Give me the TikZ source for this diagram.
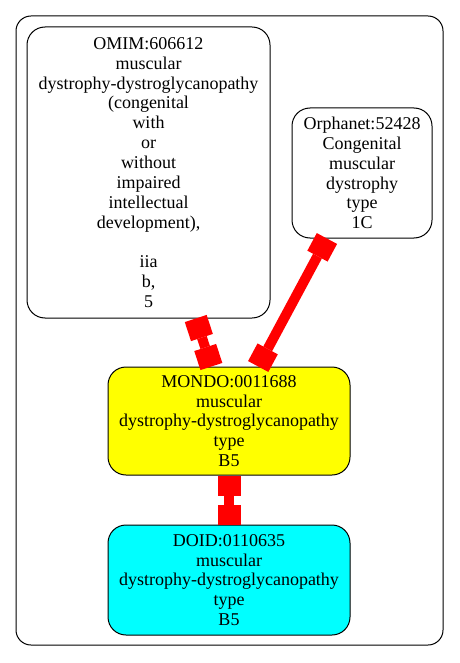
\documentclass[tikz,border=0pt]{standalone}
\usepackage{fontspec}
\setmainfont{Liberation Serif}
\usetikzlibrary{arrows.meta}
\definecolor{gvyellow}{RGB}{255,255,0}
\definecolor{gvcyan}{RGB}{0,255,255}
\definecolor{gvred}{RGB}{255,0,0}
\begin{document}
\begin{tikzpicture}[x=1pt,y=-1pt,
 box/.style={draw=black, line width=1pt, rounded corners=18pt, align=center, inner sep=0pt, font=\fontsize{18}{19.85}\selectfont},
 tee/.tip={Rectangle[length=20pt,width=23pt,line width=0pt]},
 link/.style={draw=gvred, line width=10pt, tee-tee}]
\useasboundingbox (0,0) rectangle (459,663);
\draw[line width=1pt, rounded corners=15pt] (16,16) rectangle (443,645);
\node[box, minimum width=243pt, minimum height=291pt] (omim) at (148.5,172.5)
 {OMIM:606612\\muscular\\dystrophy-dystroglycanopathy\\(congenital\\with\\or\\without\\impaired\\intellectual\\development),\\\mbox{}\\iia\\b,\\5};
\node[box, minimum width=140pt, minimum height=130pt] (orpha) at (362,173)
 {Orphanet:52428\\Congenital\\muscular\\dystrophy\\type\\1C};
\node[box, fill=gvyellow, minimum width=242pt, minimum height=108pt] (mondo) at (229,421)
 {MONDO:0011688\\muscular\\dystrophy-dystroglycanopathy\\type\\B5};
\node[box, fill=gvcyan, minimum width=242pt, minimum height=110pt] (doid) at (229,580)
 {DOID:0110635\\muscular\\dystrophy-dystroglycanopathy\\type\\B5};
\draw[link] (omim) -- (mondo);
\draw[link] (orpha) -- (mondo);
\draw[link] (mondo) -- (doid);
\end{tikzpicture}
\end{document}
